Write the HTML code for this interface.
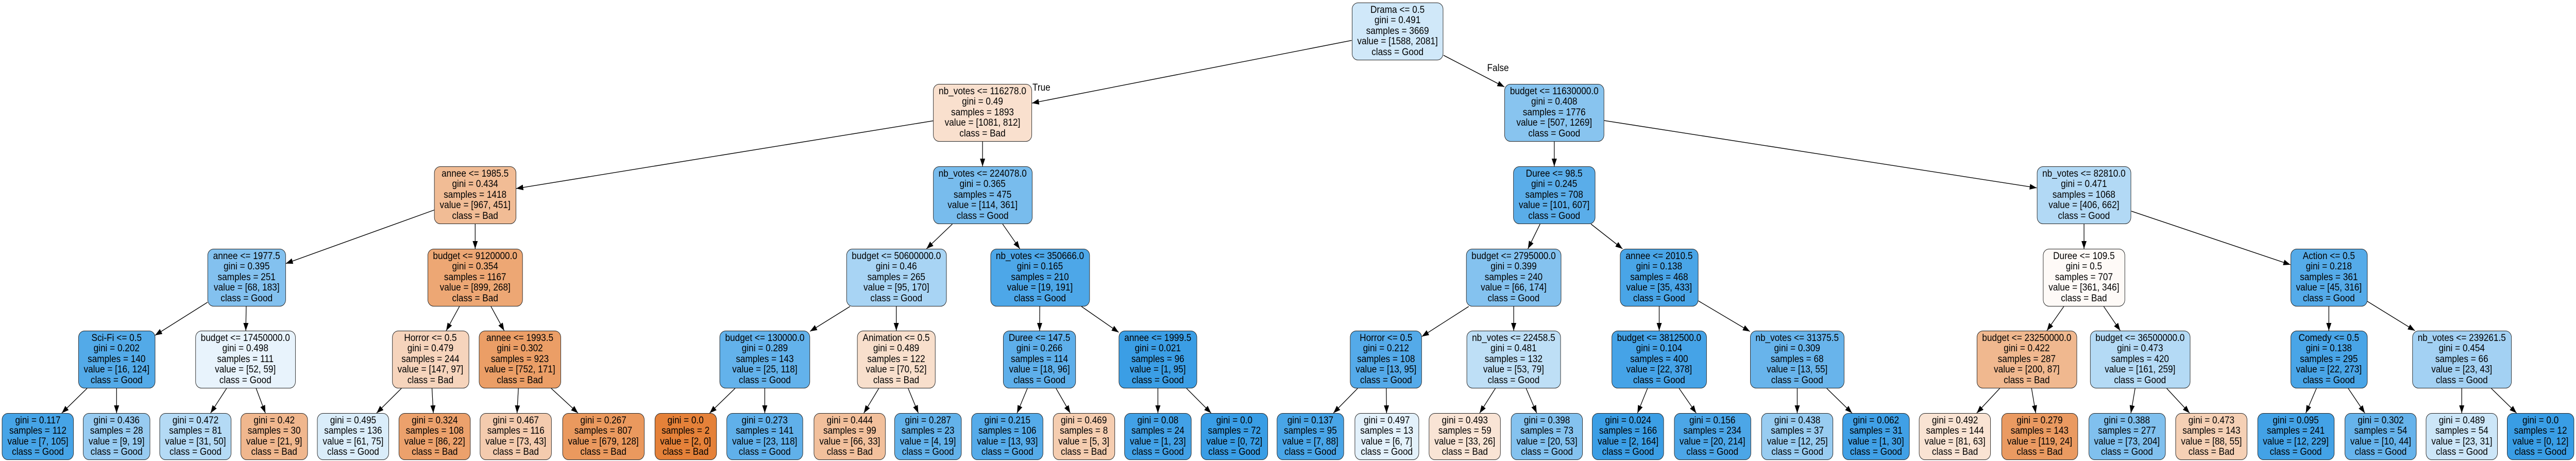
<!DOCTYPE html>
<html><head><meta charset="utf-8">
<style>
html,body{margin:0;padding:0;background:#fff;overflow:hidden;}
#c{position:absolute;left:0;top:0;width:5524px;height:895px;overflow:hidden;font-family:"Liberation Sans",Arial,sans-serif;font-size:19px;color:#000;transform-origin:0 0;}
.n{position:absolute;box-sizing:border-box;border:1.4px solid #222;border-radius:13px;padding:0 11px;display:flex;flex-direction:column;justify-content:center;align-items:center;line-height:20.5px;white-space:nowrap;}
svg{position:absolute;left:0;top:0;}
.lbl{position:absolute;font-size:19px;white-space:nowrap;}
</style></head><body>
<div id="c">
<svg id="s" width="5524" height="895"><defs><marker id="a" markerUnits="userSpaceOnUse" markerWidth="16" markerHeight="12" refX="15" refY="5.5" orient="auto"><path d="M0,0 L15,5.5 L0,11 Z" fill="#000"/></marker></defs></svg>
<div class="lbl" style="left:2214px;top:160px;">True</div>
<div class="lbl" style="left:3189px;top:122px;">False</div>
</div>
<script>
var T=[5,163,323,483,642,802];
var N=[
[0,-1,2997,0,"Drama <= 0.5",0.491,3669,[1588,2081]],
[1,0,2107,1,"nb_votes <= 116278.0",0.49,1893,[1081,812]],
[2,1,1019,2,"annee <= 1985.5",0.434,1418,[967,451]],
[3,2,529,3,"annee <= 1977.5",0.395,251,[68,183]],
[4,3,250,4,"Sci-Fi <= 0.5",0.202,140,[16,124]],
[5,4,81,5,null,0.117,112,[7,105]],
[6,4,250,5,null,0.436,28,[9,19]],
[7,3,526,4,"budget <= 17450000.0",0.498,111,[52,59]],
[8,7,419,5,null,0.472,81,[31,50]],
[9,7,588,5,null,0.42,30,[21,9]],
[10,2,1019,3,"budget <= 9120000.0",0.354,1167,[899,268]],
[11,10,923,4,"Horror <= 0.5",0.479,244,[147,97]],
[12,11,757,5,null,0.495,136,[61,75]],
[13,11,932,5,null,0.324,108,[86,22]],
[14,10,1115,4,"annee <= 1993.5",0.302,923,[752,171]],
[15,14,1106,5,null,0.467,116,[73,43]],
[16,14,1294,5,null,0.267,807,[679,128]],
[17,1,2107,2,"nb_votes <= 224078.0",0.365,475,[114,361]],
[18,17,1922,3,"budget <= 50600000.0",0.46,265,[95,170]],
[19,18,1640,4,"budget <= 130000.0",0.289,143,[25,118]],
[20,19,1470,5,null,"0.0",2,[2,0]],
[21,19,1640,5,null,0.273,141,[23,118]],
[22,18,1922,4,"Animation <= 0.5",0.489,122,[70,52]],
[23,22,1822,5,null,0.444,99,[66,33]],
[24,22,1990,5,null,0.287,23,[4,19]],
[25,17,2230,3,"nb_votes <= 350666.0",0.165,210,[19,191]],
[26,25,2229,4,"Duree <= 147.5",0.266,114,[18,96]],
[27,26,2160,5,null,0.215,106,[13,93]],
[28,26,2324,5,null,0.469,8,[5,3]],
[29,25,2483,4,"annee <= 1999.5",0.021,96,[1,95]],
[30,29,2483,5,null,0.08,24,[1,23]],
[31,29,2647,5,null,"0.0",72,[0,72]],
[32,0,3333,1,"budget <= 11630000.0",0.408,1776,[507,1269]],
[33,32,3333,2,"Duree <= 98.5",0.245,708,[101,607]],
[34,33,3246,3,"budget <= 2795000.0",0.399,240,[66,174]],
[35,34,2972,4,"Horror <= 0.5",0.212,108,[13,95]],
[36,35,2810,5,null,0.137,95,[7,88]],
[37,35,2974,5,null,0.497,13,[6,7]],
[38,34,3246,4,"nb_votes <= 22458.5",0.481,132,[53,79]],
[39,38,3141,5,null,0.493,59,[33,26]],
[40,38,3317,5,null,0.398,73,[20,53]],
[41,33,3558,3,"annee <= 2010.5",0.138,468,[35,433]],
[42,41,3558,4,"budget <= 3812500.0",0.104,400,[22,378]],
[43,42,3491,5,null,0.024,166,[2,164]],
[44,42,3672,5,null,0.156,234,[20,214]],
[45,41,3854,4,"nb_votes <= 31375.5",0.309,68,[13,55]],
[46,45,3854,5,null,0.438,37,[12,25]],
[47,45,4023,5,null,0.062,31,[1,30]],
[48,32,4469,2,"nb_votes <= 82810.0",0.471,1068,[406,662]],
[49,48,4469,3,"Duree <= 109.5",0.5,707,[361,346]],
[50,49,4346,4,"budget <= 23250000.0",0.422,287,[200,87]],
[51,50,4192,5,null,0.492,144,[81,63]],
[52,50,4374,5,null,0.279,143,[119,24]],
[53,49,4589,4,"budget <= 36500000.0",0.473,420,[161,259]],
[54,53,4561,5,null,0.388,277,[73,204]],
[55,53,4742,5,null,0.473,143,[88,55]],
[56,48,4994,3,"Action <= 0.5",0.218,361,[45,316]],
[57,56,4994,4,"Comedy <= 0.5",0.138,295,[22,273]],
[58,57,4923,5,null,0.095,241,[12,229]],
[59,57,5105,5,null,0.302,54,[10,44]],
[60,56,5279,4,"nb_votes <= 239261.5",0.454,66,[23,43]],
[61,60,5279,5,null,0.489,54,[23,31]],
[62,60,5448,5,null,"0.0",12,[0,12]]
];
var C=document.getElementById('c'),S=document.getElementById('s');
var els=[],B=[];
N.forEach(function(d){
  var v=d[7],t=v[0]+v[1],p0=v[0]/t,p1=v[1]/t,good=p1>=p0;
  var pm=Math.max(p0,p1),ps=Math.min(p0,p1),al=(pm-ps)/(1-ps);
  var base=good?[57,157,229]:[229,129,57];
  var col=base.map(function(c){return Math.round(al*c+(1-al)*255);});
  var e=document.createElement('div');e.className='n';
  var leaf=d[4]===null;
  e.style.top=T[d[3]]+'px';
  e.style.height=(leaf?91:112)+'px';
  e.style.background='rgb('+col.join(',')+')';
  var L=[];if(!leaf)L.push(d[4]);
  L.push('gini = '+d[5]);L.push('samples = '+d[6]);
  L.push('value = ['+v[0]+', '+v[1]+']');L.push('class = '+(good?'Good':'Bad'));
  e.innerHTML=L.map(function(s){return '<div>'+s.replace(/</g,'&lt;')+'</div>';}).join('');
  C.appendChild(e);
  var w=e.offsetWidth,h=leaf?91:112;
  var x=d[2]-w/2; if(x+w>5522)x=5522-w; if(x<2)x=2;
  e.style.left=x+'px';
  B[d[0]]={x:x,y:T[d[3]],w:w,h:h};
});
function clip(b,dx,dy){
  var tx=dx!==0?(b.w/2)/Math.abs(dx):Infinity,ty=dy!==0?(b.h/2)/Math.abs(dy):Infinity;
  return Math.min(tx,ty);
}
N.forEach(function(d){
  if(d[1]<0)return;
  var a=B[d[1]],b=B[d[0]];
  var ax=a.x+a.w/2,ay=a.y+a.h/2,bx=b.x+b.w/2,by=b.y+b.h/2;
  var dx=bx-ax,dy=by-ay;
  var t1=clip(a,dx,dy),t2=clip(b,-dx,-dy);
  var x1=ax+dx*t1,y1=ay+dy*t1,x2=bx-dx*t2,y2=by-dy*t2;
  var l=document.createElementNS('http://www.w3.org/2000/svg','line');
  l.setAttribute('x1',x1);l.setAttribute('y1',y1);l.setAttribute('x2',x2);l.setAttribute('y2',y2);
  l.setAttribute('stroke','#000');l.setAttribute('stroke-width','1.4');l.setAttribute('marker-end','url(#a)');
  S.appendChild(l);
});
function fit(){
  var W=window.innerWidth||5524,H=window.innerHeight||895;
  C.style.transform='scale('+(W/5524)+','+(H/895)+')';
}
fit();window.addEventListener('resize',fit);
</script>
</body></html>
